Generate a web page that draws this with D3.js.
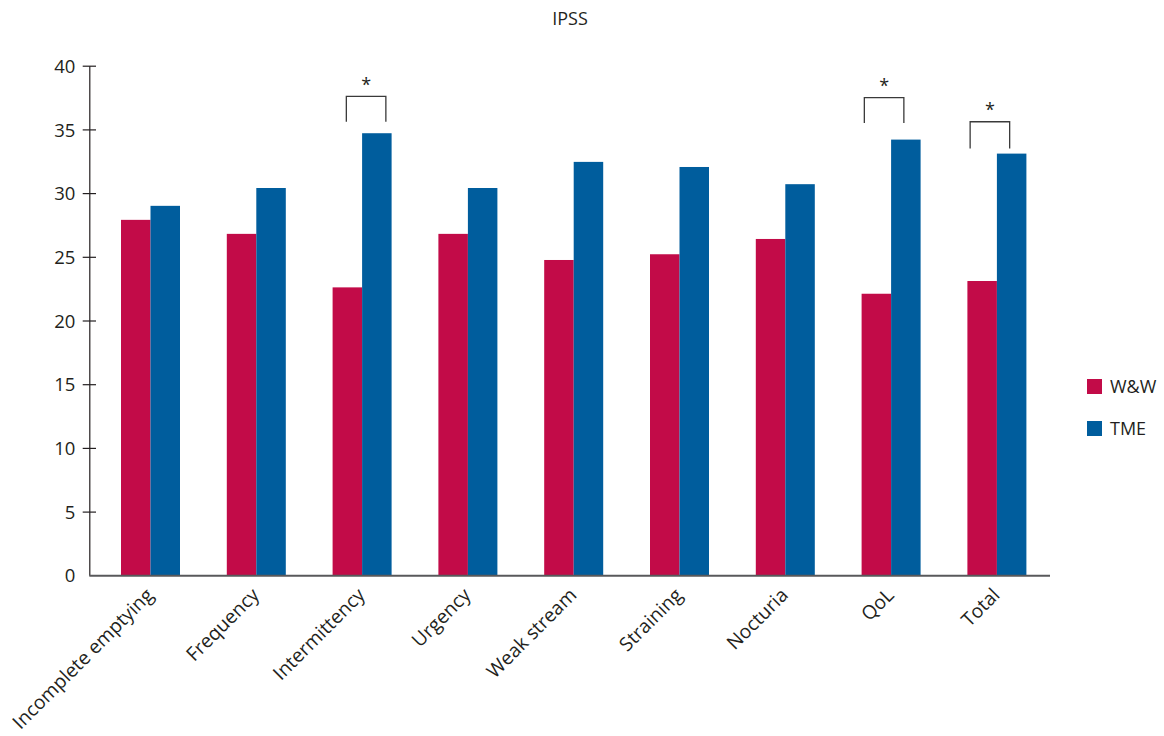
<!DOCTYPE html>
<html>
<head>
<meta charset="utf-8">
<script src="https://cdn.jsdelivr.net/npm/d3@7"></script>
<style>
  html, body { margin: 0; padding: 0; background: #fff; }
  svg { display: block; font-family: "Open Sans", sans-serif; }
</style>
</head>
<body>
<svg id="chart" width="1164" height="736"></svg>
<script>
const categories = ["Incomplete emptying", "Frequency", "Intermittency", "Urgency", "Weak stream", "Straining", "Nocturia", "QoL", "Total"];
const seriesNames = ["W&W", "TME"];
const wwValues  = [27.9, 26.8, 22.6, 26.8, 24.75, 25.2, 26.4, 22.1, 23.1];
const tmeValues = [29.0, 30.4, 34.7, 30.4, 32.45, 32.05, 30.7, 34.2, 33.1];
const yTicks = [0, 5, 10, 15, 20, 25, 30, 35, 40];
const sigCategories = ["Intermittency", "QoL", "Total"];
const sigTop =    [37.6, 37.5, 35.6];
const sigBottom = [35.6, 35.5, 33.5];
const sigNudge = [4, -7, -7];
const colors = ["#C20B48", "#005D9D"];
const textColor = "#231F20";

const svg = d3.select("#chart");
const x0 = d3.scaleBand().domain(categories).range([97.6, 1049.8]).padding(0);
const x1 = d3.scaleBand().domain(seriesNames).range([-29.5, 29.5]).padding(0);
const y = d3.scaleLinear().domain([0, 40]).range([575.3, 65.7]);
const xc = c => x0(c) + x0.bandwidth() / 2;

// title
svg.append("text").attr("x", 570).attr("y", 25).attr("text-anchor", "middle")
  .attr("font-size", 18).attr("fill", textColor).text("IPSS");

// bars
const rows = categories.map((c, i) => ({ c, vals: [wwValues[i], tmeValues[i]] }));
const g = svg.append("g");
rows.forEach(r => {
  seriesNames.forEach((s, j) => {
    g.append("rect")
      .attr("x", xc(r.c) + x1(s))
      .attr("width", x1.bandwidth())
      .attr("y", y(r.vals[j]))
      .attr("height", y(0) - y(r.vals[j]))
      .attr("fill", colors[j]);
  });
});

// y axis
const yAxis = d3.axisLeft(y).tickValues(yTicks).tickSizeInner(0).tickSizeOuter(0).tickPadding(14);
const ya = svg.append("g").attr("transform", "translate(89.3,0)").call(yAxis);
ya.select(".domain").attr("stroke", textColor).attr("stroke-width", 1.2);
ya.selectAll(".tick text").attr("font-size", 18.5).attr("fill", textColor).attr("font-family", "Open Sans, sans-serif").attr("dy", "0.36em");
ya.selectAll(".tick").filter(d => d !== 0).append("line")
  .attr("x1", -6.6).attr("x2", 6.7).attr("stroke", textColor).attr("stroke-width", 1.2);

// x axis
const xAxis = d3.axisBottom(x0).tickSize(0).tickSizeOuter(0).tickPadding(0);
const xa = svg.append("g").attr("transform", `translate(0,${y(0)})`).call(xAxis);
xa.select(".domain").remove();
xa.append("line").attr("x1", 89.3).attr("x2", 1050).attr("y1", 0.5).attr("y2", 0.5)
  .attr("stroke", "#58595B").attr("stroke-width", 2);
xa.selectAll(".tick text")
  .attr("font-size", 19.2).attr("fill", textColor).attr("font-family", "Open Sans, sans-serif")
  .attr("text-anchor", "end").attr("y", 0).attr("dy", 0)
  .attr("transform", "translate(4,21) rotate(-45)");

// significance brackets
sigCategories.forEach((c, i) => {
  const cx = xc(c) + sigNudge[i];
  const half = x1.bandwidth() * 0.67;
  const path = d3.path();
  path.moveTo(cx - half, y(sigBottom[i]));
  path.lineTo(cx - half, y(sigTop[i]));
  path.lineTo(cx + half, y(sigTop[i]));
  path.lineTo(cx + half, y(sigBottom[i]));
  svg.append("path").attr("d", path.toString()).attr("fill", "none")
    .attr("stroke", "#3a3a3a").attr("stroke-width", 1.3);
  svg.append("text").attr("x", cx).attr("y", y(sigTop[i]) - 5.5)
    .attr("text-anchor", "middle").attr("font-size", 18).attr("fill", textColor).text("*");
});

// legend
const leg = svg.append("g").attr("transform", "translate(1087,379)");
seriesNames.forEach((s, j) => {
  leg.append("rect").attr("x", 0).attr("y", j * 42).attr("width", 15).attr("height", 15).attr("fill", colors[j]);
  leg.append("text").attr("x", 23).attr("y", j * 42 + 14).attr("font-size", 18).attr("fill", textColor).text(s);
});
</script>
</body>
</html>
